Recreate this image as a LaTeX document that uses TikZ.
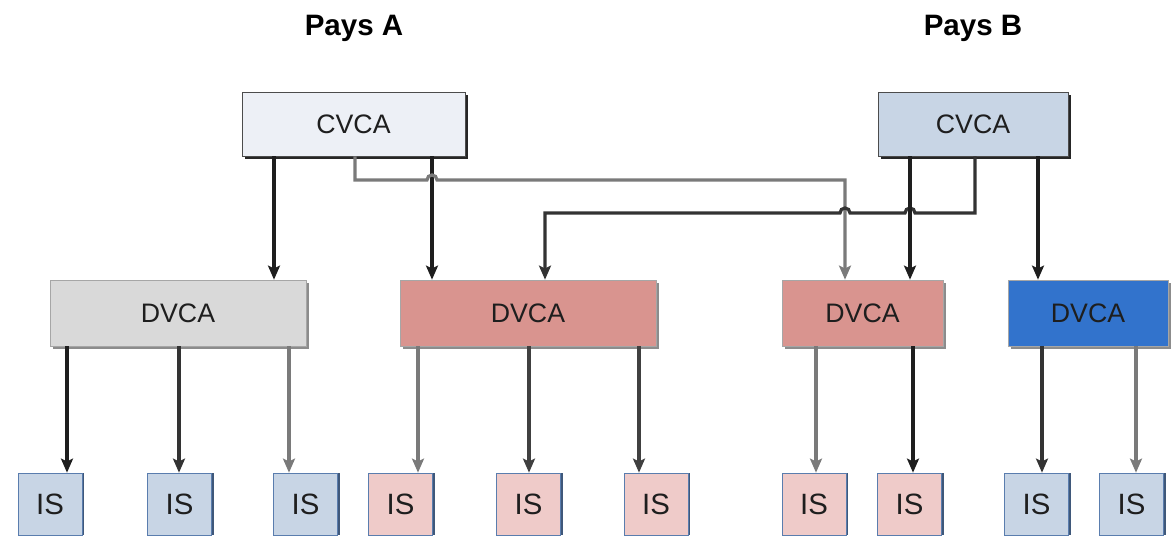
\documentclass[tikz,border=0pt]{standalone}
\usepackage{fontspec}
\setmainfont{Liberation Sans}
\usetikzlibrary{shadows,arrows.meta}

\definecolor{cvcaAfill}{HTML}{EDF0F6}
\definecolor{cvcaBfill}{HTML}{C8D5E5}
\definecolor{dgray}{HTML}{D9D9D9}
\definecolor{dpink}{HTML}{D9948F}
\definecolor{dblue}{HTML}{3273CC}
\definecolor{isblue}{HTML}{C8D5E5}
\definecolor{ispink}{HTML}{EFCBC9}
\definecolor{isedge}{HTML}{5A7DAE}
\definecolor{lgray}{HTML}{7A7A7A}
\definecolor{ink}{HTML}{1E1E1E}

\begin{document}
\begin{tikzpicture}[x=0.025cm,y=0.025cm]

  % Definitions
  \tikzstyle{CA} = [rectangle, minimum height=1.6cm, inner sep=0pt, text centered, draw=black!70, text=ink, font=\fontsize{19}{22}\selectfont, drop shadow={shadow xshift=2pt, shadow yshift=-2pt, fill=black!85, opacity=1}]
  \tikzstyle{DA} = [rectangle, minimum height=1.65cm, inner sep=0pt, text centered, draw=black!35, text=ink, font=\fontsize{19}{22}\selectfont, drop shadow={shadow xshift=2pt, shadow yshift=-2pt, fill=black!45, opacity=1}]
  \tikzstyle{IS} = [rectangle, minimum width=1.6cm, minimum height=1.55cm, inner sep=0pt, text centered, draw=isedge, text=ink, font=\fontsize{19}{22}\selectfont\addfontfeatures{Scale=1.1}, drop shadow={shadow xshift=1.5pt, shadow yshift=0pt, fill=isedge!70!black, opacity=1}]
  \tikzstyle{arrow} = [line width=2.3pt,->,>={Stealth[length=10pt,width=8.5pt,inset=2pt]},draw=ink]
  \tikzstyle{garrow} = [arrow,draw=lgray]

  \useasboundingbox (0,0) rectangle (1173,536);

  \node (paysA) [font=\fontsize{21}{24}\selectfont\bfseries] at (354,508) {Pays A};
  \node (paysB) [font=\fontsize{21}{24}\selectfont\bfseries] at (973,508) {Pays B};

  \node (cvcaA) [CA, fill=cvcaAfill, minimum width=5.575cm] at (353.5,412) {CVCA};
  \node (cvcaB) [CA, fill=cvcaBfill, minimum width=4.75cm] at (973,412) {CVCA};

  \node (dvcaA) [DA, fill=dgray, minimum width=6.4cm] at (178,223) {DVCA};
  \node (dvcaA2) [DA, fill=dpink, minimum width=6.4cm] at (528,223) {DVCA};
  \node (dvcaB) [DA, fill=dpink, minimum width=4.025cm] at (862.5,223) {DVCA};
  \node (dvcaB2) [DA, fill=dblue, minimum width=4cm] at (1088,223) {DVCA};

  \node (is1) [IS, fill=isblue] at (50,32) {IS};
  \node (is2) [IS, fill=isblue] at (179.5,32) {IS};
  \node (is3) [IS, fill=isblue] at (305.5,32) {IS};
  \node (is4) [IS, fill=ispink] at (400.5,32) {IS};
  \node (is5) [IS, fill=ispink] at (528.5,32) {IS};
  \node (is6) [IS, fill=ispink] at (656,32) {IS};
  \node (is7) [IS, fill=ispink] at (814,32) {IS};
  \node (is8) [IS, fill=ispink] at (909.5,32) {IS};
  \node (is9) [IS, fill=isblue] at (1036.5,32) {IS};
  \node (is10) [IS, fill=isblue] at (1131.5,32) {IS};

  % CVCA -> DVCA
  \draw [arrow] (cvcaA.south -| 274,0) -- (dvcaA.north -| 274,0);
  \draw [arrow] (cvcaA.south -| 432,0) -- (dvcaA2.north -| 432,0);
  \draw [garrow] (cvcaA.south -| 355,0) -- (355,356) -- (427,356) arc[start angle=180, end angle=0, radius=5] -- (845,356) -- (dvcaB.north -| 845,0);
  \draw [arrow, draw=black!80] (cvcaB.south -| 975,0) -- (975,323) -- (915,323) arc[start angle=0, end angle=180, radius=5] -- (850,323) arc[start angle=0, end angle=180, radius=5] -- (545,323) -- (dvcaA2.north -| 545,0);
  \draw [arrow] (cvcaB.south -| 910,0) -- (dvcaB.north -| 910,0);
  \draw [arrow] (cvcaB.south -| 1038,0) -- (dvcaB2.north -| 1038,0);

  % DVCA -> IS
  \draw [arrow] (dvcaA.south -| 67,0) -- (is1.north -| 67,0);
  \draw [arrow, draw=black!80] (dvcaA.south -| 179,0) -- (is2.north -| 179,0);
  \draw [garrow] (dvcaA.south -| 289,0) -- (is3.north -| 289,0);
  \draw [garrow] (dvcaA2.south -| 418,0) -- (is4.north -| 418,0);
  \draw [arrow, draw=black!75] (dvcaA2.south -| 529,0) -- (is5.north -| 529,0);
  \draw [arrow, draw=black!75] (dvcaA2.south -| 639,0) -- (is6.north -| 639,0);
  \draw [garrow] (dvcaB.south -| 816,0) -- (is7.north -| 816,0);
  \draw [arrow] (dvcaB.south -| 913,0) -- (is8.north -| 913,0);
  \draw [arrow, draw=black!80] (dvcaB2.south -| 1042,0) -- (is9.north -| 1042,0);
  \draw [garrow] (dvcaB2.south -| 1136,0) -- (is10.north -| 1136,0);

\end{tikzpicture}
\end{document}
